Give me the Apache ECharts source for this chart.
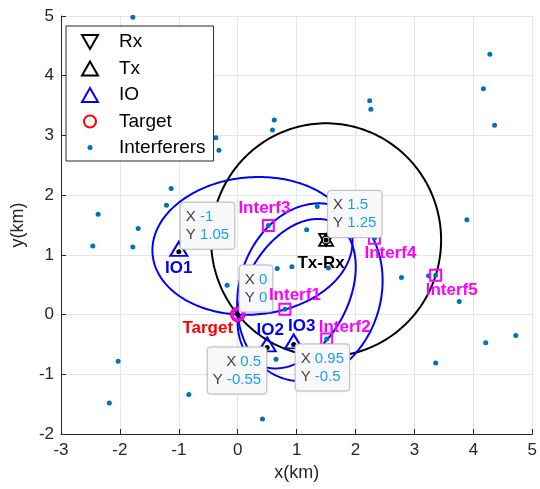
<!DOCTYPE html>
<html>
<head>
<meta charset="utf-8">
<script src="https://cdn.jsdelivr.net/npm/echarts@6/dist/echarts.min.js"></script>
<style>
  html, body { margin: 0; padding: 0; background: #fff; }
  #chart { width: 540px; height: 489px; }
</style>
</head>
<body>
<div id="chart"></div>
<script>
// positions in km
const txRx = [1.5, 1.25];
const ioPoints = [[-1, 1.05], [0.5, -0.55], [0.95, -0.5]];
const ioNames = ['IO1', 'IO2', 'IO3'];
const target = [0, 0];
const interfSel = [[0.80, 0.09], [1.51, -0.41], [0.52, 1.49], [2.32, 1.28], [3.36, 0.66]];
const interfNames = ['Interf1', 'Interf2', 'Interf3', 'Interf4', 'Interf5'];
const interferers = [
  [-1.78, 4.98], [-0.37, 2.96], [-0.32, 2.75], [0.62, 3.26], [0.59, 3.09],
  [2.24, 3.58], [2.26, 3.44], [4.28, 4.36], [4.17, 3.78], [4.36, 3.17],
  [3.89, 1.59], [2.78, 0.62], [3.24, 0.65], [3.76, 0.22], [4.21, -0.47],
  [4.72, -0.35], [3.36, -0.81], [1.35, 1.81], [1.17, 1.42], [1.54, 0.78],
  [-1.13, 2.11], [-1.21, 1.83], [0.67, 0.77], [0.92, 0.80], [-0.18, 0.49],
  [0.65, -0.75], [0.42, -1.75], [-0.83, -1.34], [-2.18, -1.48], [-2.37, 1.68],
  [-1.69, 1.44], [-2.46, 1.15], [-1.78, 1.13], [-2.03, -0.78]
];
// datatips: which point, and where the box sits
const tipPoints = [ioPoints[0], target, txRx, ioPoints[1], ioPoints[2]];
const tipPlace = ['tr', 'tr', 'tr', 'bl', 'br'];

const FONT = 'Liberation Sans, Arial, sans-serif';
const BLUE = '#0000ff', MAG = '#ff00ff', AX = '#262626';

// range curves: foci pair, all passing through the target
const curves = [[txRx, txRx, '#000']].concat(ioPoints.map(p => [txRx, p, BLUE]));

function curveItem(params, api) {
  const [f1, f2, color] = curves[api.value(2)];
  const d = (a, b) => Math.hypot(a[0] - b[0], a[1] - b[1]);
  const a = (d(target, f1) + d(target, f2)) / 2;
  const c = d(f1, f2) / 2;
  const b = Math.sqrt(a * a - c * c);
  const th = Math.atan2(f2[1] - f1[1], f2[0] - f1[0]);
  const cx = (f1[0] + f2[0]) / 2, cy = (f1[1] + f2[1]) / 2;
  const pts = [];
  for (let i = 0; i <= 240; i++) {
    const t = i / 240 * Math.PI * 2;
    const u = a * Math.cos(t), v = b * Math.sin(t);
    pts.push(api.coord([cx + u * Math.cos(th) - v * Math.sin(th), cy + u * Math.sin(th) + v * Math.cos(th)]));
  }
  return { type: 'polyline', shape: { points: pts }, style: { stroke: color, lineWidth: 2, fill: null } };
}

function tipItem(params, api) {
  const i = api.value(2);
  const p = api.coord([api.value(0), api.value(1)]);
  const pl = tipPlace[i];
  let x = p[0] + 2, y = p[1] - 3, align = 'left', va = 'bottom';
  if (pl === 'bl') { x = p[0] - 1; y = p[1]; align = 'right'; va = 'top'; }
  if (pl === 'br') { x = p[0] + 2; y = p[1]; va = 'top'; }
  const pt = tipPoints[i];
  return {
    type: 'text', x, y,
    style: {
      text: `{k|X} {v|${pt[0]}}\n{k|Y} {v|${pt[1]}}`,
      rich: {
        k: { fontSize: 15, fill: '#404040', fontFamily: FONT, lineHeight: 18 },
        v: { fontSize: 15, fill: '#1a9ff0', fontFamily: FONT, lineHeight: 18 }
      },
      fontSize: 15, fontFamily: FONT,
      align, verticalAlign: va,
      backgroundColor: '#f8f8fb', borderColor: '#c8c8c8', borderWidth: 1, borderRadius: 3,
      padding: [5, 5, 5, 5],
      shadowBlur: 2, shadowColor: 'rgba(0,0,0,0.15)'
    }
  };
}

const labelItems = [
  { value: txRx, label: { formatter: 'Tx-Rx', color: '#000', offset: [-5, 23] } },
  { value: ioPoints[0], label: { formatter: ioNames[0], color: BLUE, offset: [0, 16] } },
  { value: ioPoints[1], label: { formatter: ioNames[1], color: BLUE, offset: [3, -17] } },
  { value: ioPoints[2], label: { formatter: ioNames[2], color: BLUE, offset: [8, -18] } },
  { value: target, label: { formatter: 'Target', color: '#ff0000', offset: [-30, 14] } }
];
const interfOffsets = [[10, -14], [18, -12], [-4, -17], [16, 15], [16, 15]];
interfSel.forEach((p, i) => labelItems.push({ value: p, label: { formatter: interfNames[i], color: MAG, offset: interfOffsets[i] } }));

const hollow = (c, w) => ({ color: 'rgba(0,0,0,0)', borderColor: c, borderWidth: w, opacity: 1 });
const DOWN = 'path://M0,0 L10,0 L5,8.66 Z';

const chart = echarts.init(document.getElementById('chart'));
chart.setOption({
  animation: false,
  grid: { left: 61, top: 16, width: 477, height: 418 },
  xAxis: {
    type: 'value', min: -3, max: 5, interval: 1,
    axisLine: { show: true, onZero: false, lineStyle: { color: AX } },
    axisTick: { show: true, inside: true, length: 5, lineStyle: { color: AX } },
    axisLabel: { fontSize: 17, color: AX, fontFamily: FONT, margin: 8 },
    splitLine: { show: true, lineStyle: { color: '#e6e6e6' } },
    name: 'x(km)', nameLocation: 'middle', nameGap: 28,
    nameTextStyle: { fontSize: 18, color: AX, fontFamily: FONT }
  },
  yAxis: {
    type: 'value', min: -2, max: 5, interval: 1,
    axisLine: { show: true, onZero: false, lineStyle: { color: AX } },
    axisTick: { show: true, inside: true, length: 5, lineStyle: { color: AX } },
    axisLabel: { fontSize: 17, color: AX, fontFamily: FONT, margin: 7 },
    splitLine: { show: true, lineStyle: { color: '#e6e6e6' } },
    name: 'y(km)', nameLocation: 'middle', nameGap: 34, nameRotate: 90,
    nameTextStyle: { fontSize: 18, color: AX, fontFamily: FONT }
  },
  legend: {
    orient: 'vertical', left: 66, top: 26,
    backgroundColor: '#fff', borderColor: AX, borderWidth: 1,
    padding: [6, 8, 4, 14], itemGap: 6.5, itemWidth: 44, itemHeight: 18,
    selectedMode: false,
    textStyle: { fontSize: 19, color: '#000', fontFamily: FONT, lineHeight: 19, padding: [0, 0, 0, 2] },
    data: [
      { name: 'Rx', icon: 'path://M0,0 M18,18 M1,2 L17,2 L9,16 Z', itemStyle: hollow('#000', 2) },
      { name: 'Tx', icon: 'path://M0,0 M18,18 M1,16 L17,16 L9,2 Z', itemStyle: hollow('#000', 2) },
      { name: 'IO', icon: 'path://M0,0 M18,18 M1,16 L17,16 L9,2 Z', itemStyle: hollow(BLUE, 2) },
      { name: 'Target', icon: 'path://M0,0 M18,18 M9,3 A6,6 0 1 1 9,15 A6,6 0 1 1 9,3 Z', itemStyle: hollow('#ff0000', 2) },
      { name: 'Interferers', icon: 'path://M0,0 M18,18 M9,6.5 A2.5,2.5 0 1 1 9,11.5 A2.5,2.5 0 1 1 9,6.5 Z', itemStyle: { color: '#0072bd', borderWidth: 0, opacity: 1 } }
    ]
  },
  series: [
    {
      type: 'custom', name: 'curves', renderItem: curveItem, z: 2, silent: true,
      encode: { x: 0, y: 1 },
      data: curves.map((c, i) => [c[0][0], c[0][1], i])
    },
    {
      type: 'scatter', name: 'Interferers', z: 3, symbol: 'circle', symbolSize: 5,
      itemStyle: { color: '#0072bd', opacity: 1 }, data: interferers.concat(interfSel)
    },
    {
      type: 'scatter', name: 'interfSel', z: 4, symbol: 'rect', symbolSize: 11,
      itemStyle: hollow(MAG, 2), data: interfSel
    },
    {
      type: 'scatter', name: 'Rx', z: 5, symbol: DOWN, symbolSize: [14, 12],
      itemStyle: hollow('#000', 1.8), data: [txRx]
    },
    {
      type: 'scatter', name: 'Tx', z: 5, symbol: 'triangle', symbolSize: [14, 12],
      itemStyle: hollow('#000', 1.8), data: [txRx]
    },
    {
      type: 'scatter', name: 'txRing', z: 5, symbol: 'circle', symbolSize: 8,
      itemStyle: { color: '#fff', borderColor: '#000', borderWidth: 1.5, opacity: 1 }, data: [txRx]
    },
    {
      type: 'scatter', name: 'IO', z: 5, symbol: 'triangle', symbolSize: [17, 14], symbolOffset: [0, -3],
      itemStyle: hollow(BLUE, 2), data: ioPoints
    },
    {
      type: 'scatter', name: 'Target', z: 5, symbol: 'circle', symbolSize: 14,
      itemStyle: hollow('#ff0000', 1.5), data: [target]
    },
    {
      type: 'scatter', name: 'targetRing', z: 6, symbol: 'circle', symbolSize: 11,
      itemStyle: hollow(MAG, 3), data: [target]
    },
    {
      type: 'scatter', name: 'centers', z: 7, symbol: 'circle', symbolSize: 5,
      itemStyle: { color: '#000', opacity: 1 }, data: [txRx, target].concat(ioPoints)
    },
    {
      type: 'custom', name: 'tips', renderItem: tipItem, z: 9, silent: true,
      encode: { x: 0, y: 1 },
      data: tipPoints.map((p, i) => [p[0], p[1], i])
    },
    {
      type: 'scatter', name: 'labels', z: 10, symbol: 'circle', symbolSize: 1, silent: true,
      itemStyle: { color: 'rgba(0,0,0,0)', opacity: 1 },
      label: { show: true, position: 'inside', fontSize: 17, fontWeight: 'bold', fontFamily: FONT },
      data: labelItems
    }
  ]
});
</script>
</body>
</html>
